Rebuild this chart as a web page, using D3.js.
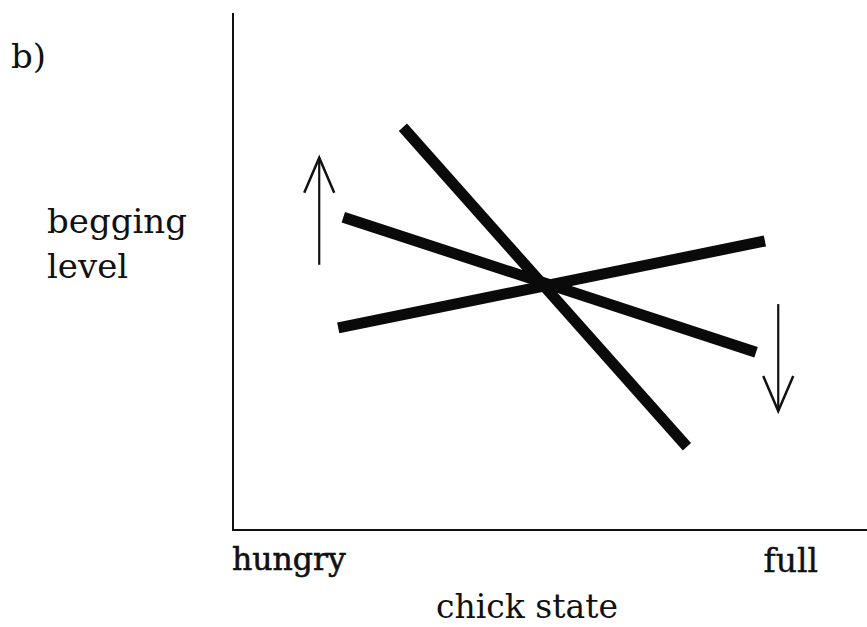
<!DOCTYPE html>
<html>
<head>
<meta charset="utf-8">
<script src="https://cdn.jsdelivr.net/npm/d3@7"></script>
<style>
  html, body { margin: 0; padding: 0; background: #fff; }
  svg { display: block; }
  text { font-family: "DejaVu Serif", "Liberation Serif", serif; fill: #111; }
</style>
</head>
<body>
<svg id="chart" width="867" height="627"></svg>
<script>
// ---- data (abstract units: chick state 0..10, begging level 0..10) ----
const panelLabel = "b)";
const yLabelLines = ["begging", "level"];
const xLabel = "chick state";
const xTickLabels = ["hungry", "full"];
const lineNames = ["steep", "shallowNeg", "positive"];
const lineX = [[2.68, 7.16], [1.74, 8.25], [1.66, 8.39]];
const lineY = [[7.79, 1.61], [6.05, 3.44], [3.91, 5.59]];
const arrowNames = ["up", "down"];
const arrowX = [1.36, 8.60];
const arrowFromY = [5.13, 4.37];
const arrowToY = [7.20, 2.30];

const svg = d3.select("#chart");
const x = d3.scaleLinear().domain([0, 10]).range([233, 867]);
const y = d3.scaleLinear().domain([0, 10]).range([530, 13]);

// axes (plain lines, no ticks)
svg.append("line").attr("x1", x(0)).attr("x2", x(0)).attr("y1", y(10)).attr("y2", y(0))
  .attr("stroke", "#111").attr("stroke-width", 2);
svg.append("line").attr("x1", x(0) - 1).attr("x2", x(10)).attr("y1", y(0)).attr("y2", y(0))
  .attr("stroke", "#111").attr("stroke-width", 2);

// thick lines
const lineGen = d3.line().x(d => x(d[0])).y(d => y(d[1]));
lineNames.forEach((n, i) => {
  const pts = lineX[i].map((xv, j) => [xv, lineY[i][j]]);
  svg.append("path").attr("d", lineGen(pts))
    .attr("fill", "none").attr("stroke", "#0a0a0a")
    .attr("stroke-width", 11).attr("stroke-linecap", "butt");
});

// arrows
arrowNames.forEach((n, i) => {
  const ax = x(arrowX[i]), y0 = y(arrowFromY[i]), y1 = y(arrowToY[i]);
  const dir = y1 < y0 ? 1 : -1; // 1 = tip up
  svg.append("line").attr("x1", ax).attr("x2", ax).attr("y1", y0).attr("y2", y1)
    .attr("stroke", "#111").attr("stroke-width", 2.2);
  const wing = 35;
  svg.append("path")
    .attr("d", `M${ax - 15},${y1 + dir * wing} L${ax},${y1} L${ax + 15},${y1 + dir * wing}`)
    .attr("fill", "none").attr("stroke", "#111").attr("stroke-width", 2.5)
    .attr("stroke-linejoin", "miter");
});

// texts
svg.append("text").attr("x", 11).attr("y", 68).attr("font-size", 34).text(panelLabel);
yLabelLines.forEach((t, i) => {
  svg.append("text").attr("x", 47).attr("y", 233 + i * 45).attr("font-size", 34).text(t);
});
svg.append("text").attr("x", x(0) - 1).attr("y", 570).attr("font-size", 31.5)
  .attr("stroke", "#111").attr("stroke-width", 0.6).text(xTickLabels[0]);
svg.append("text").attr("x", 818).attr("y", 572).attr("font-size", 33)
  .attr("stroke", "#111").attr("stroke-width", 0.4)
  .attr("text-anchor", "end").text(xTickLabels[1]);
svg.append("text").attr("x", 436).attr("y", 618).attr("font-size", 33).text(xLabel);
</script>
</body>
</html>
